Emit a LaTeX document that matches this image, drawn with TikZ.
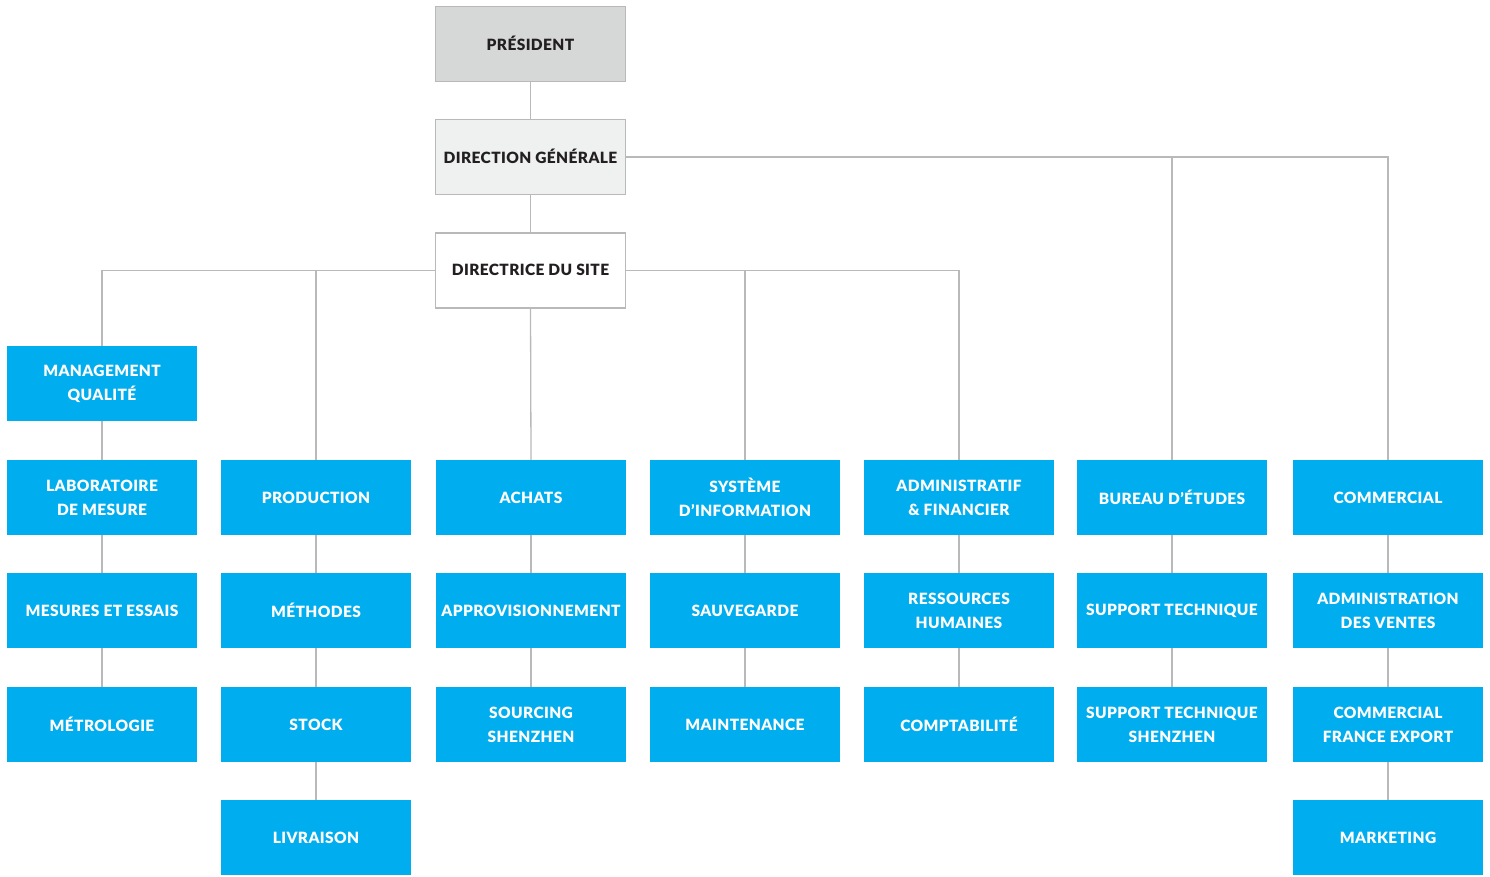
\documentclass[tikz,border=0pt]{standalone}
\usepackage{fontspec}
\setmainfont{Lato}[BoldFont={Lato Black}, BoldFeatures={LetterSpace=2.5}]
\definecolor{bluebox}{RGB}{0,173,239}
\definecolor{linegray}{RGB}{185,185,185}
\definecolor{presfill}{RGB}{214,215,215}
\definecolor{dgfill}{RGB}{239,240,240}
\definecolor{txtdark}{RGB}{35,31,32}
\tikzset{
  box/.style={minimum width=190pt, minimum height=75pt, inner sep=0pt, align=center,
    font=\fontsize{15.5}{24}\selectfont\bfseries},
  bluebox/.style={box, fill=bluebox, text=white},
  topbox/.style={box, draw=linegray, line width=1.2pt, text=txtdark},
  conn/.style={draw=linegray, line width=1.3pt}
}
\begin{document}
\begin{tikzpicture}[x=1pt,y=-1pt]
\useasboundingbox (0,0) rectangle (1490,877);
% top boxes
\node[topbox, fill=presfill] (pres) at (530.5,44) {\raisebox{2pt}{PRÉSIDENT}};
\node[topbox, fill=dgfill] (dg) at (530.5,157) {\raisebox{2pt}{DIRECTION GÉNÉRALE}};
\node[topbox, fill=white] (dir) at (530.5,270.5) {\raisebox{1pt}{DIRECTRICE DU SITE}};
% column 1
\node[bluebox] (mq) at (102,383.5) {MANAGEMENT\\QUALITÉ};
\node[bluebox] (lab) at (102,497.5) {LABORATOIRE\\DE MESURE};
\node[bluebox] (mes) at (102,610.5) {MESURES ET ESSAIS};
\node[bluebox] (met) at (102,724.5) {MÉTROLOGIE};
% column 2
\node[bluebox] (prod) at (316,497.5) {PRODUCTION};
\node[bluebox] (meth) at (316,610.5) {MÉTHODES};
\node[bluebox] (stock) at (316,724.5) {STOCK};
\node[bluebox] (liv) at (316,837.5) {LIVRAISON};
% column 3
\node[bluebox] (ach) at (531,497.5) {ACHATS};
\node[bluebox] (appro) at (531,610.5) {APPROVISIONNEMENT};
\node[bluebox] (sourc) at (531,724.5) {SOURCING\\SHENZHEN};
% column 4
\node[bluebox] (si) at (745,497.5) {SYSTÈME\\D’INFORMATION};
\node[bluebox] (sauv) at (745,610.5) {SAUVEGARDE};
\node[bluebox] (maint) at (745,724.5) {MAINTENANCE};
% column 5
\node[bluebox] (adm) at (959,497.5) {ADMINISTRATIF\\\& FINANCIER};
\node[bluebox] (rh) at (959,610.5) {RESSOURCES\\HUMAINES};
\node[bluebox] (compta) at (959,724.5) {COMPTABILITÉ};
% column 6
\node[bluebox] (be) at (1172,497.5) {BUREAU D’ÉTUDES};
\node[bluebox] (st) at (1172,610.5) {SUPPORT TECHNIQUE};
\node[bluebox] (stsz) at (1172,724.5) {SUPPORT TECHNIQUE\\SHENZHEN};
% column 7
\node[bluebox] (com) at (1388,497.5) {COMMERCIAL};
\node[bluebox] (adv) at (1388,610.5) {ADMINISTRATION\\DES VENTES};
\node[bluebox] (cfe) at (1388,724.5) {COMMERCIAL\\FRANCE EXPORT};
\node[bluebox] (mkt) at (1388,837.5) {MARKETING};
% connectors
\draw[conn] (pres.south) -- (dg.north);
\draw[conn] (dg.south) -- (dir.north);
\draw[conn] (dir.west) -| (mq.north);
\draw[conn] (prod.north) |- (dir.west);
\draw[conn] (dir.south) -- (ach.north);
\draw[conn] (dir.east) -| (adm.north);
\draw[conn] (si.north) |- (dir.east);
\draw[conn] (dg.east) -| (com.north);
\draw[conn] (be.north) |- (dg.east);
\draw[conn] (mq.south) -- (lab.north);
\draw[conn] (lab.south) -- (mes.north);
\draw[conn] (mes.south) -- (met.north);
\draw[conn] (prod.south) -- (meth.north);
\draw[conn] (meth.south) -- (stock.north);
\draw[conn] (stock.south) -- (liv.north);
\draw[conn] (ach.south) -- (appro.north);
\draw[conn] (appro.south) -- (sourc.north);
\draw[conn] (si.south) -- (sauv.north);
\draw[conn] (sauv.south) -- (maint.north);
\draw[conn] (adm.south) -- (rh.north);
\draw[conn] (rh.south) -- (compta.north);
\draw[conn] (be.south) -- (st.north);
\draw[conn] (st.south) -- (stsz.north);
\draw[conn] (com.south) -- (adv.north);
\draw[conn] (adv.south) -- (cfe.north);
\draw[conn] (cfe.south) -- (mkt.north);
\end{tikzpicture}
\end{document}
